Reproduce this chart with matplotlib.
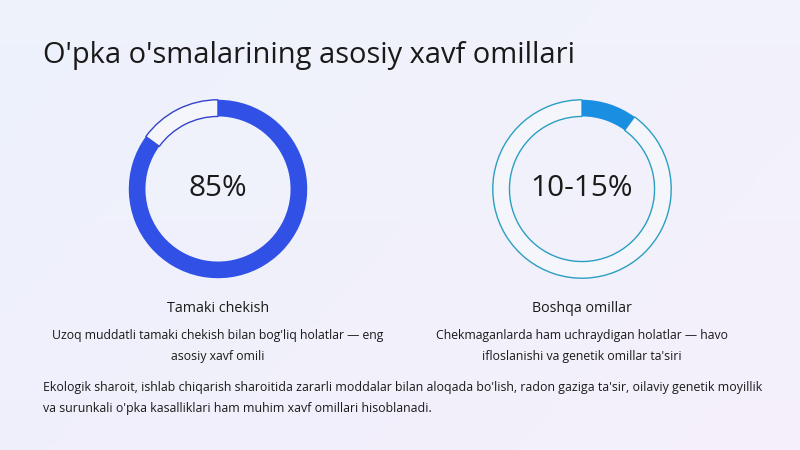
import numpy as np
import matplotlib.pyplot as plt

plt.rcParams['font.family'] = ['Open Sans', 'DejaVu Sans']

title = "O'pka o'smalarining asosiy xavf omillari"
values = [85, 10]
centre_labels = ["85%", "10-15%"]
names = ["Tamaki chekish", "Boshqa omillar"]
descriptions = [
    "Uzoq muddatli tamaki chekish bilan bog'liq holatlar — eng\nasosiy xavf omili",
    "Chekmaganlarda ham uchraydigan holatlar — havo\nifloslanishi va genetik omillar ta'siri",
]
note = ("Ekologik sharoit, ishlab chiqarish sharoitida zararli moddalar bilan aloqada bo'lish, radon gaziga ta'sir, oilaviy genetik moyillik\n"
        "va surunkali o'pka kasalliklari ham muhim xavf omillari hisoblanadi.")

fill_colors = ["#3050e6", "#1a8ee0"]
edge_colors = ["#3543c8", "#2a9fc2"]
centres_x = [218, 582]

W, H = 800, 450
fig = plt.figure(figsize=(8, 4.5), dpi=100)

# soft background
bg = fig.add_axes([0, 0, 1, 1])
xx, yy = np.meshgrid(np.linspace(0, 1, 200), np.linspace(0, 1, 120))
r = 0.94 + 0.02 * xx - 0.01 * yy
g = 0.94 + 0.01 * yy
b = 0.985 + 0.0 * xx
bg.imshow(np.dstack([r, g, b]).clip(0, 1), extent=[0, W, 0, H], aspect='auto', origin='lower')
bg.set_xlim(0, W)
bg.set_ylim(0, H)
bg.axis('off')

bg.text(43, H - 55, title, fontsize=20.9, color='#1a1a1a', va='center', ha='left')

R = 91
cy = 189
for i, cx in enumerate(centres_x):
    ax = fig.add_axes([(cx - R) / W, (H - cy - R) / H, 2 * R / W, 2 * R / H])
    v = values[i]
    wedges, _ = ax.pie([v, 100 - v], startangle=90, counterclock=False, radius=1,
                       colors=[fill_colors[i], '#f5f6fc'],
                       wedgeprops=dict(width=17 / 91, linewidth=1.0, edgecolor=edge_colors[i]))
    wedges[0].set_linewidth(0)
    wedges[1].set_zorder(0)
    ax.set_xlim(-1.02, 1.02)
    ax.set_ylim(-1.02, 1.02)
    ax.set_aspect('equal')
    ax.axis('off')
    bg.text(cx, H - cy, centre_labels[i], fontsize=21.4, color='#1a1a1a', ha='center', va='center')
    bg.text(cx, H - 308, names[i], fontsize=10.3, color='#1a1a1a', ha='center', va='center')
    bg.text(cx, H - 346, descriptions[i], fontsize=8.85, color='#1a1a1a', ha='center', va='center',
            linespacing=1.8)

bg.text(43, H - 398, note, fontsize=8.9, color='#1a1a1a', ha='left', va='center', linespacing=1.85)

fig.savefig('out.png', dpi=100)
